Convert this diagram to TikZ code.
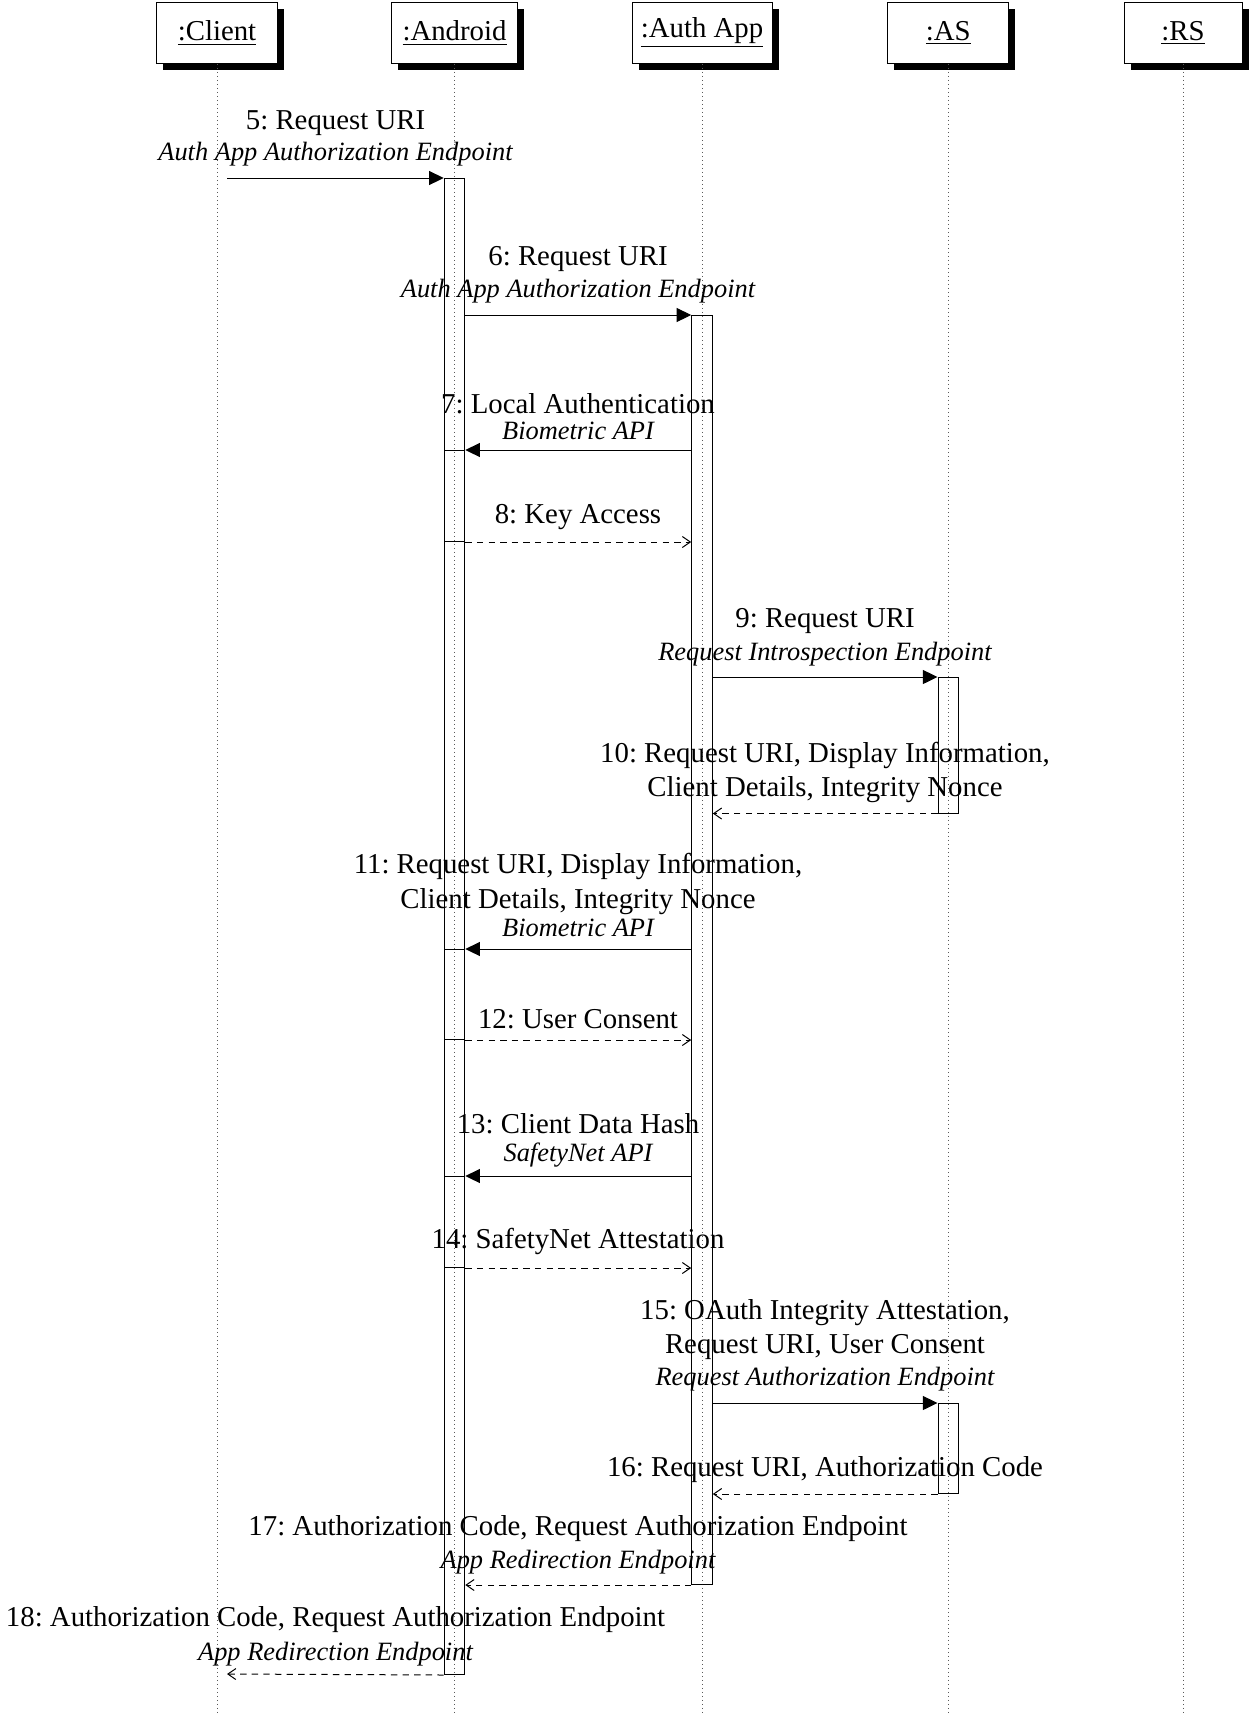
\documentclass[tikz,border=0pt]{standalone}
\usepackage{fontspec}
\setmainfont{Liberation Serif}
\usetikzlibrary{arrows.meta,shadows}
\begin{document}
\begin{tikzpicture}[x=0.5pt,y=-0.5pt,
  font=\fontsize{14.4}{17}\selectfont,
  head/.style={draw, fill=white, line width=0.5pt, minimum height=30.3pt, inner sep=0pt,
    drop shadow={shadow xshift=3.25pt, shadow yshift=-3.25pt, fill=black, opacity=1}},
  life/.style={line width=0.5pt, black!65, dash pattern=on 0.5pt off 1.5pt},
  act/.style={draw, line width=0.5pt, minimum width=10.3pt, inner sep=0pt, anchor=north},
  callarrow/.style={line width=0.5pt, -{Triangle[length=7.3pt,width=7pt]}},
  retarrow/.style={line width=0.5pt, dash pattern=on 3.2pt off 2.6pt, -{Straight Barb[length=4pt,width=5.5pt]}},
  lbl/.style={anchor=base, inner sep=0pt},
  api/.style={anchor=base, inner sep=0pt, font=\fontsize{13.2}{15}\selectfont\itshape},
]
\useasboundingbox (0,0) rectangle (1251,1715);

% heads
\node[head, minimum width=60.9pt] (client) at (217,33) {\underline{:Client}};
\node[head, minimum width=63pt]   (android) at (454.5,33) {\underline{:Android}};
\node[head, minimum width=70pt]   (authapp) at (702,33) {\underline{:Auth App}};
\node[head, minimum width=60.5pt] (as) at (948.3,33) {\underline{:AS}};
\node[head, minimum width=59pt]   (rs) at (1183,33) {\underline{:RS}};

% lifelines
\coordinate (bottom) at (0,1715);
\draw[life] (client.south) -- (client.south |- bottom);
\draw[life] (android.south) -- (android.south |- bottom);
\draw[life] (authapp.south) -- (authapp.south |- bottom);
\draw[life] (as.south) -- (as.south |- bottom);
\draw[life] (rs.south) -- (rs.south |- bottom);

% activations
\node[act, minimum height=748pt] (aA) at (454.5,178) {};
\node[act, minimum height=634.5pt] (aU) at (702,315) {};
\node[act, minimum height=67.75pt] (s1) at (948.3,677) {};
\node[act, minimum height=45pt] (s2) at (948.3,1403) {};
\node[act, minimum height=45.5pt] (n1) at (454.5,450) {};
\node[act, minimum height=45pt] (n2) at (454.5,949) {};
\node[act, minimum height=45.5pt] (n3) at (454.5,1176) {};

\coordinate (c5) at (227,178);
\coordinate (c18) at (227,1674);

% 5
\node[lbl] (m5a) at (335.5,129) {5:\ Request URI};
\node[api] (m5b) at (335.5,160) {Auth App Authorization Endpoint};
\draw[callarrow] (c5) -- (aA.north west);
% 6
\node[lbl] (m6a) at (578,265.5) {6:\ Request URI};
\node[api] (m6b) at (578,297) {Auth App Authorization Endpoint};
\draw[callarrow] (aA.east |- aU.north) -- (aU.north west);
% 7
\node[lbl] (m7a) at (578,413) {7:\ Local Authentication};
\node[api] (m7b) at (578,439) {Biometric API};
\draw[callarrow] (aU.west |- n1.north) -- (n1.north east);
% 8
\node[lbl] (m8a) at (578,523) {8:\ Key Access};
\draw[retarrow] (n1.south east) -- (aU.west |- n1.south);
% 9
\node[lbl] (m9a) at (825,627.5) {9:\ Request URI};
\node[api] (m9b) at (825,660) {Request Introspection Endpoint};
\draw[callarrow] (aU.east |- s1.north) -- (s1.north west);
% 10
\node[lbl] (m10a) at (825,762) {10:\ Request URI, Display Information,};
\node[lbl] (m10b) at (825,796) {Client Details, Integrity Nonce};
\draw[retarrow] (s1.south west) -- (aU.east |- s1.south);
% 11
\node[lbl] (m11a) at (578,873.3) {11:\ Request URI, Display Information,};
\node[lbl] (m11b) at (578,908.3) {Client Details, Integrity Nonce};
\node[api] (m11c) at (578,936.7) {Biometric API};
\draw[callarrow] (aU.west |- n2.north) -- (n2.north east);
% 12
\node[lbl] (m12a) at (578,1028.5) {12:\ User Consent};
\draw[retarrow] (n2.south east) -- (aU.west |- n2.south);
% 13
\node[lbl] (m13a) at (578,1133.3) {13:\ Client Data Hash};
\node[api] (m13b) at (578,1161) {SafetyNet API};
\draw[callarrow] (aU.west |- n3.north) -- (n3.north east);
% 14
\node[lbl] (m14a) at (578,1248.3) {14:\ SafetyNet Attestation};
\draw[retarrow] (n3.south east) -- (aU.west |- n3.south);
% 15
\node[lbl] (m15a) at (825,1319.5) {15:\ OAuth Integrity Attestation,};
\node[lbl] (m15b) at (825,1353.5) {Request URI, User Consent};
\node[api] (m15c) at (825,1385.5) {Request Authorization Endpoint};
\draw[callarrow] (aU.east |- s2.north) -- (s2.north west);
% 16
\node[lbl] (m16a) at (825,1476.7) {16:\ Request URI, Authorization Code};
\draw[retarrow] (s2.south west) -- (aU.east |- s2.south);
% 17
\node[lbl] (m17a) at (578,1535) {17:\ Authorization Code, Request Authorization Endpoint};
\node[api] (m17b) at (578,1568) {App Redirection Endpoint};
\draw[retarrow] (aU.south west) -- (aA.east |- aU.south);
% 18
\node[lbl] (m18a) at (335.5,1626.7) {18:\ Authorization Code, Request Authorization Endpoint};
\node[api] (m18b) at (335.5,1660) {App Redirection Endpoint};
\draw[retarrow] (aA.south west) -- (c18);
\end{tikzpicture}
\end{document}
